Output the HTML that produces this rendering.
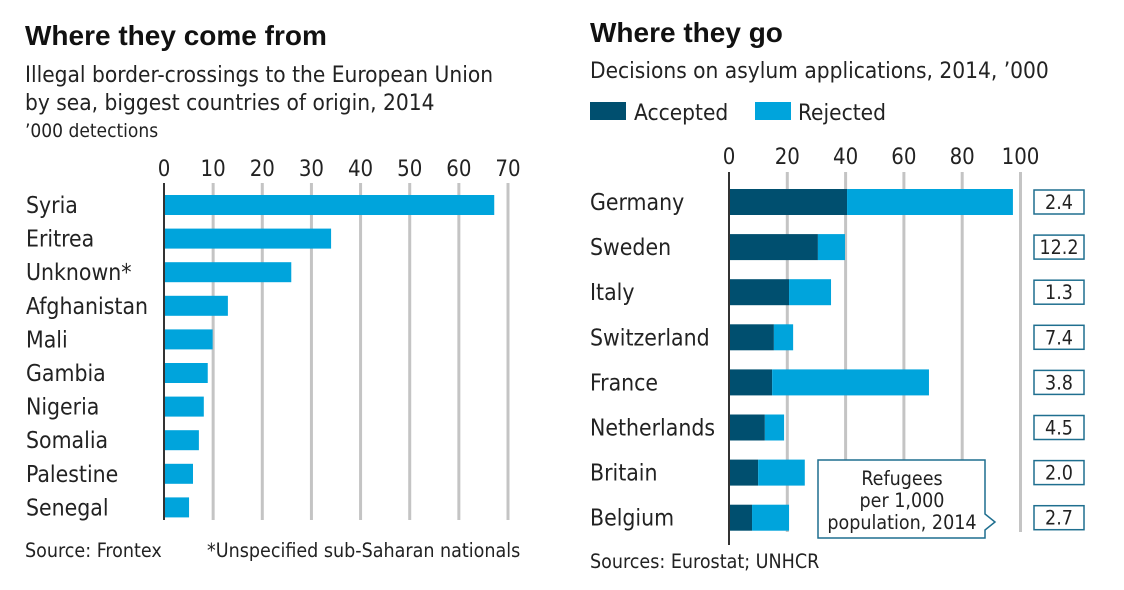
<!DOCTYPE html>
<html><head><meta charset="utf-8">
<style>
body{margin:0;background:#fff;}
svg{display:block;font-family:"DejaVu Sans Condensed","Liberation Sans Narrow","Liberation Sans",sans-serif;}
.t{font-size:22.5px;fill:#222;}
</style></head>
<body>
<svg id="c" width="1124" height="590" viewBox="0 0 1124 590" xmlns="http://www.w3.org/2000/svg">
<text x="25" y="45" font-size="28" font-weight="bold" fill="#111" font-family="Liberation Sans, sans-serif">Where they come from</text>
<text x="25" y="82" class="t">Illegal border-crossings to the European Union</text>
<text x="25" y="110" class="t">by sea, biggest countries of origin, 2014</text>
<text x="25" y="137" font-size="19" fill="#222">’000 detections</text>
<text x="25" y="557" font-size="19.5" fill="#222">Source: Frontex</text>
<text x="207" y="557" font-size="19.5" fill="#222">*Unspecified sub-Saharan nationals</text>

<text x="590" y="42" font-size="28" font-weight="bold" fill="#111" font-family="Liberation Sans, sans-serif">Where they go</text>
<text x="590" y="78" class="t">Decisions on asylum applications, 2014, ’000</text>
<rect x="590" y="102" width="36" height="18" fill="#004f6f"/>
<text x="634" y="120" class="t">Accepted</text>
<rect x="755" y="102" width="36" height="18" fill="#00a4dc"/>
<text x="798" y="120" class="t">Rejected</text>
<text x="590" y="568" font-size="19.5" fill="#222">Sources: Eurostat; UNHCR</text>

<g id="left"></g>
<g id="right"></g>

<g>
<path d="M818,460 H985 V514 L995,522 L985,530 V538 H818 Z" fill="#fff" stroke="#1f6f8f" stroke-width="1.5"/>
<text x="902" y="485" text-anchor="middle" font-size="19.5" fill="#222">Refugees</text>
<text x="902" y="507" text-anchor="middle" font-size="19.5" fill="#222">per 1,000</text>
<text x="902" y="529" text-anchor="middle" font-size="19.5" fill="#222">population, 2014</text>
</g>
</svg>
<script>
const originCats=["Syria","Eritrea","Unknown*","Afghanistan","Mali","Gambia","Nigeria","Somalia","Palestine","Senegal"];
const originVals=[67.2,34,25.9,13,9.9,8.9,8.1,7.1,5.9,5.1];
const originTicks=[0,10,20,30,40,50,60,70];
const destCats=["Germany","Sweden","Italy","Switzerland","France","Netherlands","Britain","Belgium"];
const accepted=[40.5,30.5,20.6,15.4,14.8,12.3,10,7.9];
const rejected=[56.9,9.3,14.4,6.6,53.8,6.6,16,12.7];
const refugeesPer1000=["2.4","12.2","1.3","7.4","3.8","4.5","2.0","2.7"];
const destTicks=[0,20,40,60,80,100];
const NS="http://www.w3.org/2000/svg";
function mk(p,tag,a,txt){const e=document.createElementNS(NS,tag);for(const k in a)e.setAttribute(k,a[k]);if(txt!==undefined)e.textContent=txt;p.appendChild(e);return e;}
const L=document.getElementById('left');
const lx=v=>164+v*344/70;
const ly=i=>205+i*33.6;
originTicks.forEach(t=>{
  if(t>0){const g=mk(L,'line',{x1:lx(t),x2:lx(t),y1:183,y2:520,stroke:'#c4c4c4','stroke-width':3});
  
  }
  const tx=mk(L,'text',{x:lx(t),y:176,'text-anchor':'middle','font-size':22,fill:'#222'},t);
  
  
});
originCats.forEach((c,i)=>{
  const r=mk(L,'rect',{x:lx(0),y:ly(i)-10,width:lx(originVals[i])-lx(0),height:20,fill:'#00a4dc'});
  
  
  const t=mk(L,'text',{x:26,y:ly(i)+8,'font-size':22.8,fill:'#222'},c);
  
  
});
const la=mk(L,'line',{x1:lx(0),x2:lx(0),y1:183,y2:520,stroke:'#333','stroke-width':2});



const R=document.getElementById('right');
const rx=v=>729+v*2.915;
const ry=i=>202+i*45.1;
destTicks.forEach(t=>{
  if(t>0){const g=mk(R,'line',{x1:rx(t),x2:rx(t),y1:172,y2:532,stroke:'#c4c4c4','stroke-width':3});
  
  }
  const tx=mk(R,'text',{x:rx(t),y:164,'text-anchor':'middle','font-size':22,fill:'#222'},t);
  
  
});
destCats.forEach((c,i)=>{
  const a=mk(R,'rect',{x:rx(0),y:ry(i)-13,width:rx(accepted[i])-rx(0),height:26,fill:'#004f6f'});
  
  
  const b=mk(R,'rect',{x:rx(accepted[i]),y:ry(i)-13,width:rx(accepted[i]+rejected[i])-rx(accepted[i]),height:26,fill:'#00a4dc'});
  
  
  const t=mk(R,'text',{x:590,y:ry(i)+8,'font-size':22.8,fill:'#222'},c);
  
  
  const bx=mk(R,'rect',{x:1034,y:ry(i)-12,width:50,height:24,fill:'#fff',stroke:'#1f6f8f','stroke-width':1.5});
  
  
  const bt=mk(R,'text',{x:1059,y:ry(i)+7,'text-anchor':'middle','font-size':19.5,fill:'#222'},refugeesPer1000[i]);
  
  
});
const ra=mk(R,'line',{x1:rx(0),x2:rx(0),y1:172,y2:545,stroke:'#333','stroke-width':2});


</script>
</body></html>
